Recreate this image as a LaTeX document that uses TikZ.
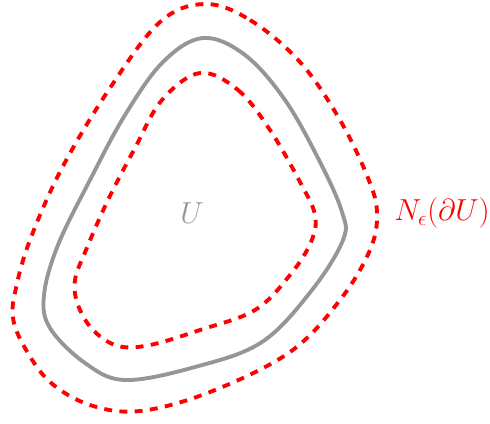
\documentclass[tikz,border=0pt]{standalone}
\usepackage{xcolor}
\usepackage{tikz}
\definecolor{borde}{RGB}{150,150,152}
\tikzset{
  frontera/.style={draw=borde, line width=2.2pt},
  vecindad/.style={draw=red, line width=2.2pt, dash pattern=on 4.5pt off 4.2pt},
  etiq/.style={font=\fontsize{16.5}{20}\selectfont, inner sep=0pt}
}
\begin{document}
\begin{tikzpicture}[x=0.02cm, y=-0.02cm]
  \useasboundingbox (0,0) rectangle (490,423);
  % curva exterior
  \draw[vecindad] plot[smooth cycle, tension=0.6] coordinates {
    (205,4) (250,20) (300,62) (340,120) (368,178) (377,213) (370,250)
    (340,300) (290,352) (210,392) (140,411) (90,405) (50,382) (25,348)
    (13,318) (16,288) (30,240) (62,168) (110,88) (160,22)};
  % frontera de U
  \draw[frontera] plot[smooth cycle, tension=0.6] coordinates {
    (203,38) (245,55) (285,100) (320,162) (342,212) (343,240)
    (312,290) (262,342) (195,367) (125,380) (85,363) (50,328) (44,295)
    (58,245) (90,180) (125,115) (163,62)};
  % curva interior
  \draw[vecindad] plot[smooth cycle, tension=0.6] coordinates {
    (200,73) (238,90) (270,130) (300,182) (315,215) (311,242) (290,275)
    (255,310) (200,330) (150,345) (118,346) (93,330) (78,305) (75,280)
    (86,250) (108,200) (135,148) (162,100)};
  \node[etiq, text=borde] (U) at (192,213) {$U$};
  \node[etiq, text=red] (N) at (442,213) {$N_\epsilon(\partial U)$};
\end{tikzpicture}
\end{document}
